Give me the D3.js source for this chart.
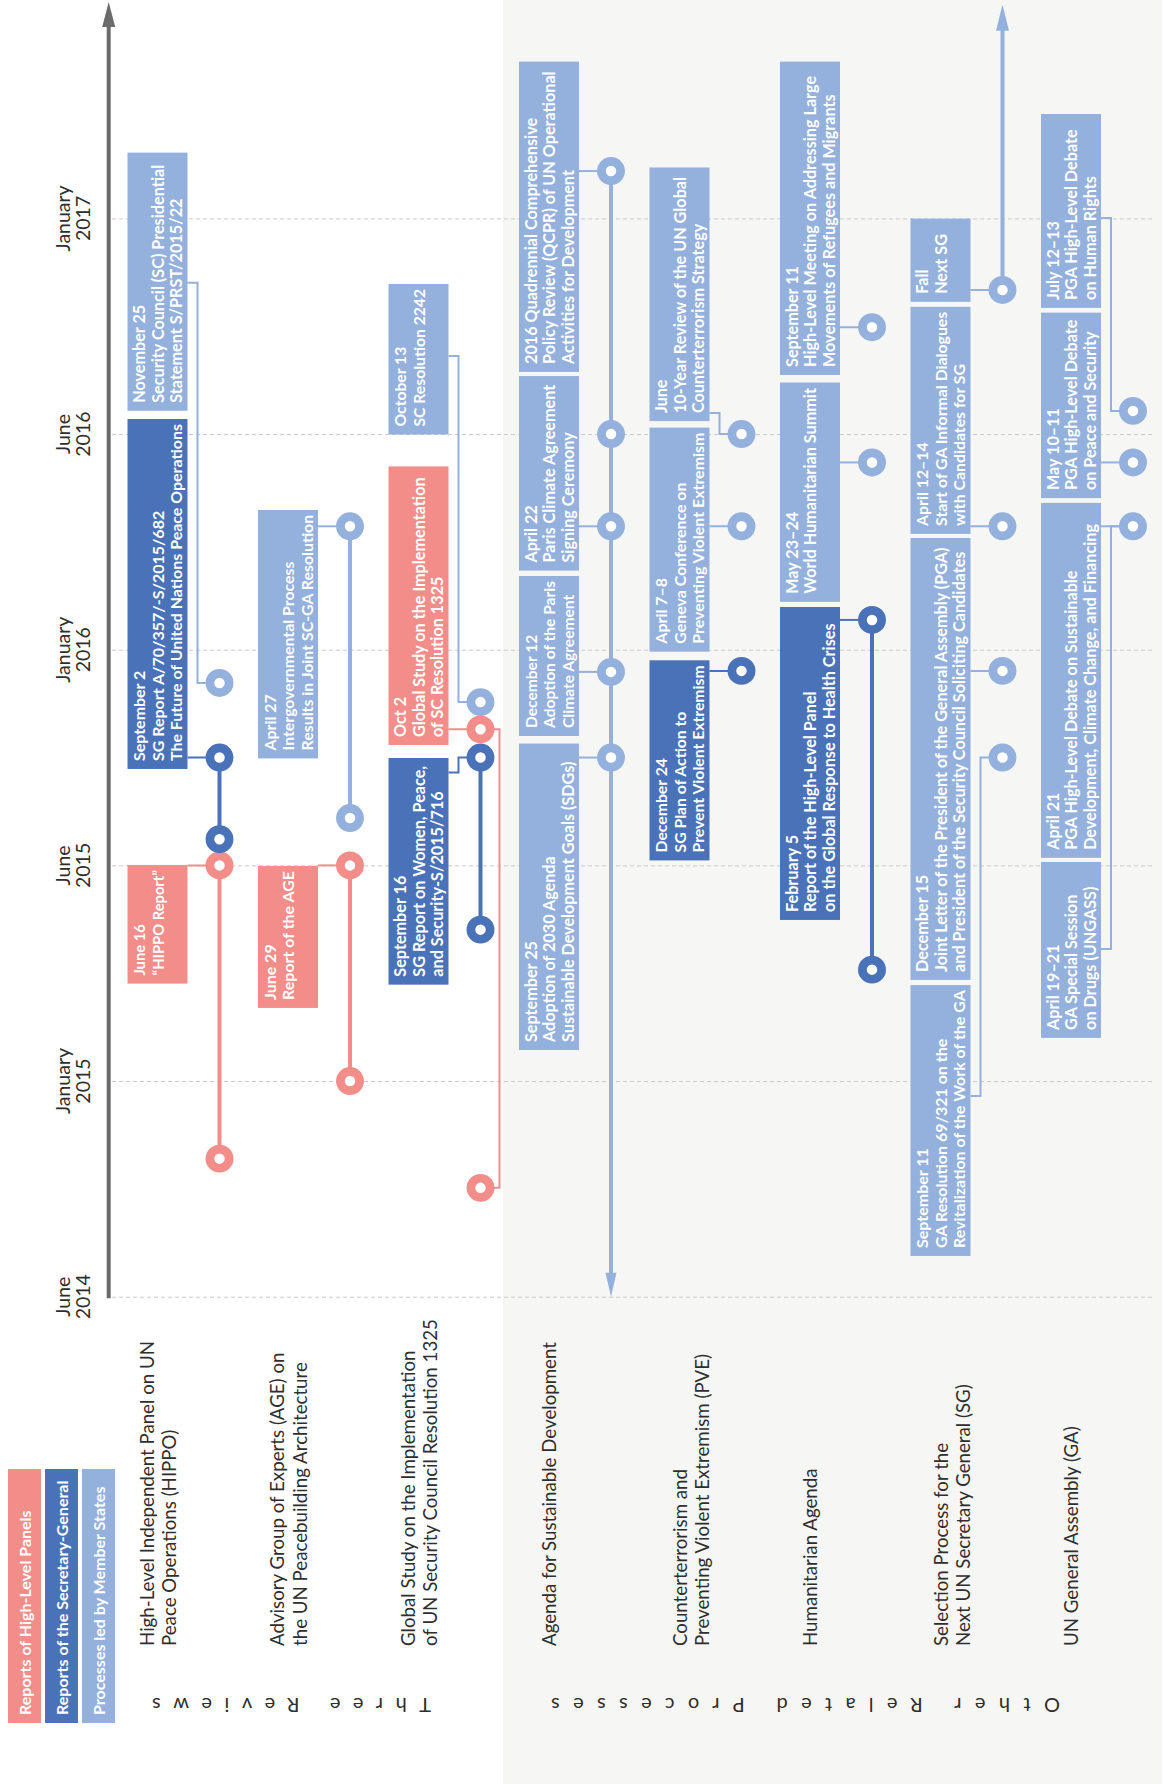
<!DOCTYPE html>
<html><head><meta charset="utf-8">
<script src="https://cdn.jsdelivr.net/npm/d3@7"></script>
<style>
html,body{margin:0;padding:0;background:#fff;}
svg{display:block;}
text{font-family:Lato,"Open Sans",sans-serif;}
</style></head><body>
<svg id="chart" width="1167" height="1784"></svg>
<script>
// ---------------- DATA ----------------
const tickDates  = ["2014-06-01","2015-01-01","2015-06-01","2016-01-01","2016-06-01","2017-01-01"];
const tickMonths = ["June","January","June","January","June","January"];
const tickYears  = ["2014","2015","2015","2016","2016","2017"];

const rowLabels = [
  ["High-Level Independent Panel on UN","Peace Operations (HIPPO)"],
  ["Advisory Group of Experts (AGE) on","the UN Peacebuilding Architecture"],
  ["Global Study on the Implementation","of UN Security Council Resolution 1325"],
  ["Agenda for Sustainable Development"],
  ["Counterterrorism and","Preventing Violent Extremism (PVE)"],
  ["Humanitarian Agenda"],
  ["Selection Process for the","Next UN Secretary General (SG)"],
  ["UN General Assembly (GA)"]
];
const rowGroups   = [0,0,0,1,1,1,1,1];
const groupLabels = ["Three Reviews","Other Related Processes"];

const categories   = ["panel","sg","member"];
const legendLabels = ["Reports of High-Level Panels","Reports of the Secretary-General","Processes led by Member States"];

// timeline points (circles)
const points = [
  {row:0,type:"panel",date:"2014-10-16"},{row:0,type:"panel",date:"2015-06-01"},
  {row:0,type:"sg",date:"2015-06-27"},{row:0,type:"sg",date:"2015-09-16"},
  {row:0,type:"member",date:"2015-11-29"},
  {row:1,type:"panel",date:"2015-01-01"},{row:1,type:"panel",date:"2015-06-01"},
  {row:1,type:"member",date:"2015-07-18"},{row:1,type:"member",date:"2016-03-28"},
  {row:2,type:"panel",date:"2014-09-17"},{row:2,type:"panel",date:"2015-10-14"},
  {row:2,type:"sg",date:"2015-04-17"},{row:2,type:"sg",date:"2015-09-16"},
  {row:2,type:"member",date:"2015-11-10"},
  {row:3,type:"member",date:"2015-09-16"},{row:3,type:"member",date:"2015-12-10"},
  {row:3,type:"member",date:"2016-03-28"},{row:3,type:"member",date:"2016-06-01"},
  {row:3,type:"member",date:"2017-02-17"},
  {row:4,type:"sg",date:"2015-12-11"},{row:4,type:"member",date:"2016-03-28"},
  {row:4,type:"member",date:"2016-06-01"},
  {row:5,type:"sg",date:"2015-03-20"},{row:5,type:"sg",date:"2016-01-22"},
  {row:5,type:"member",date:"2016-05-12"},{row:5,type:"member",date:"2016-09-15"},
  {row:6,type:"member",date:"2015-09-16"},{row:6,type:"member",date:"2015-12-11"},
  {row:6,type:"member",date:"2016-03-28"},{row:6,type:"member",date:"2016-10-22"},
  {row:7,type:"member",date:"2016-03-28"},{row:7,type:"member",date:"2016-05-12"},
  {row:7,type:"member",date:"2016-06-24"}
];

// process spans (lines joining points)
const spans = [
  {row:0,type:"panel",from:"2014-10-16",to:"2015-06-01"},
  {row:0,type:"sg",from:"2015-06-27",to:"2015-09-16"},
  {row:1,type:"panel",from:"2015-01-01",to:"2015-06-01"},
  {row:1,type:"member",from:"2015-07-18",to:"2016-03-28"},
  {row:2,type:"panel",from:"2014-09-17",to:"2015-10-14",bracket:true},
  {row:2,type:"sg",from:"2015-04-17",to:"2015-09-16"},
  {row:3,type:"member",from:"2014-06-01",to:"2017-02-17",arrow:"from"},
  {row:5,type:"sg",from:"2015-03-20",to:"2016-01-22"},
  {row:6,type:"member",from:"2016-10-22",to:"2017-08-01",arrow:"to"}
];

// annotation boxes
const notes = [
  {row:0,type:"panel",date:"2015-06-01",text:["June 16","\u201CHIPPO Report\u201D"]},
  {row:0,type:"sg",date:"2015-09-16",text:["September 2","SG Report A/70/357/-S/2015/682","The Future of United Nations Peace Operations"]},
  {row:0,type:"member",date:"2015-11-29",text:["November 25","Security Council (SC) Presidential","Statement S/PRST/2015/22"]},
  {row:1,type:"panel",date:"2015-06-01",text:["June 29","Report of the AGE"]},
  {row:1,type:"member",date:"2016-03-28",text:["April 27","Intergovernmental Process","Results in Joint SC-GA Resolution"]},
  {row:2,type:"panel",date:"2015-10-14",text:["Oct 2","Global Study on the Implementation","of SC Resolution 1325"]},
  {row:2,type:"sg",date:"2015-09-16",text:["September 16","SG Report on Women, Peace,","and Security-S/2015/716"]},
  {row:2,type:"member",date:"2015-11-10",text:["October 13","SC Resolution 2242"]},
  {row:3,type:"member",date:"2015-09-16",text:["September 25","Adoption of 2030 Agenda","Sustainable Development Goals (SDGs)"]},
  {row:3,type:"member",date:"2015-12-10",text:["December 12","Adoption of the Paris","Climate Agreement"]},
  {row:3,type:"member",date:"2016-03-28",text:["April 22","Paris Climate Agreement","Signing Ceremony"]},
  {row:3,type:"member",date:"2017-02-17",text:["2016 Quadrennial Comprehensive","Policy Review (QCPR) of UN Operational","Activities for Development"]},
  {row:4,type:"sg",date:"2015-12-11",text:["December 24","SG Plan of Action to","Prevent Violent Extremism"]},
  {row:4,type:"member",date:"2016-03-28",text:["April 7\u20138","Geneva Conference on","Preventing Violent Extremism"]},
  {row:4,type:"member",date:"2016-06-01",text:["June","10-Year Review of the UN Global","Counterterrorism Strategy"]},
  {row:5,type:"sg",date:"2016-01-22",text:["February 5","Report of the High-Level Panel","on the Global Response to Health Crises"]},
  {row:5,type:"member",date:"2016-05-12",text:["May 23\u201324","World Humanitarian Summit"]},
  {row:5,type:"member",date:"2016-09-15",text:["September 11","High-Level Meeting on Addressing Large","Movements of Refugees and Migrants"]},
  {row:6,type:"member",date:"2015-09-16",text:["September 11","GA Resolution 69/321 on the","Revitalization of the Work of the GA"]},
  {row:6,type:"member",date:"2015-12-11",text:["December 15","Joint Letter of the President of the General  Assembly (PGA)","and President of the Security Council Soliciting Candidates"]},
  {row:6,type:"member",date:"2016-03-28",text:["April 12\u201314","Start of GA Informal Dialogues","with Candidates for SG"]},
  {row:6,type:"member",date:"2016-10-22",text:["Fall","Next SG"]},
  {row:7,type:"member",date:"2016-03-28",text:["April 19\u201321","GA Special Session","on Drugs (UNGASS)"]},
  {row:7,type:"member",date:"2016-03-28",text:["April 21","PGA High-Level Debate on Sustainable","Development, Climate Change, and Financing"]},
  {row:7,type:"member",date:"2016-05-12",text:["May 10\u201311","PGA High-Level Debate","on Peace and Security"]},
  {row:7,type:"member",date:"2016-06-24",text:["July 12\u201313","PGA High-Level Debate","on Human Rights"]}
];

// ---------------- LAYOUT (box extents in tick-step units along the time axis) ----------------
const noteLayout = [
  [1.452,2.002,null],[2.447,4.070,null],[4.108,5.305,4.702],
  [1.339,1.997,null],[2.496,3.648,null],
  [2.558,3.850,null],[1.447,2.498,2.431],[3.998,4.696,4.362],
  [1.144,2.565,null],[2.600,3.342,null],[3.367,4.269,null],[4.288,5.727,null],
  [2.023,2.951,null],[2.991,4.030,null],[4.060,5.236,4.098],
  [1.747,3.198,null],[3.222,4.239,null],[4.274,5.727,null],
  [0.189,1.445,0.931],[1.469,3.518,null],[3.537,4.590,null],[4.613,4.999,null],
  [1.200,2.016,1.612],[2.035,3.681,null],[3.703,4.563,null],[4.585,5.484,5.002]
];

const W = 1167, H = 1784;
const colors = {panel:"#f28d89", sg:"#4a72b8", member:"#94b0dc"};
const textDark = "#2e2e2e";

const svg = d3.select("#chart");
const parse = d3.utcParse("%Y-%m-%d");
const tickPos = d3.scaleLinear().domain([0, tickDates.length - 1]).range([1296.7, 218.4]);
const y = d3.scaleUtc().domain(tickDates.map(parse)).range(tickDates.map((d,i) => tickPos(i)));
const x = d3.scalePoint().domain(d3.range(rowLabels.length)).range([219.5, 1133]);

// backgrounds
svg.append("rect").attr("width", W).attr("height", H).attr("fill", "#fff");
svg.append("rect").attr("x", 503).attr("y", 0).attr("width", 659).attr("height", H).attr("fill", "#f6f6f4");

// gridlines via axis
const grid = svg.append("g").attr("transform", "translate(112,0)")
  .call(d3.axisRight(y).tickValues(tickDates.map(parse)).tickSize(1043).tickFormat(""));
grid.select(".domain").remove();
grid.selectAll(".tick line").attr("stroke", "#c9c9c9").attr("stroke-width", 1).attr("stroke-dasharray", "4 3");

// tick labels
tickDates.forEach((d, i) => {
  const yy = y(parse(d));
  svg.append("text").attr("transform", `translate(70,${yy}) rotate(-90)`)
    .attr("text-anchor", "middle").attr("font-size", 19.5).attr("fill", textDark).text(tickMonths[i]);
  svg.append("text").attr("transform", `translate(90,${yy}) rotate(-90)`)
    .attr("text-anchor", "middle").attr("font-size", 19.5).attr("fill", textDark).text(tickYears[i]);
});

// main axis with arrow
const axisX = 108.7;
svg.append("line").attr("x1", axisX).attr("x2", axisX).attr("y1", tickPos(0) + 1.5).attr("y2", 24)
  .attr("stroke", "#6b6b6b").attr("stroke-width", 4);
svg.append("path").attr("d", `M${axisX},2 L${axisX - 6.5},27 L${axisX + 6.5},27 Z`).attr("fill", "#6b6b6b");

// spans
const spanG = svg.append("g");
spans.forEach(s => {
  const cx = x(s.row), y1 = y(parse(s.from)), y2 = y(parse(s.to)), c = colors[s.type];
  if (s.bracket) {
    spanG.append("path").attr("d", `M${cx},${y2} H${cx + 19} V${y1} H${cx}`)
      .attr("fill", "none").attr("stroke", c).attr("stroke-width", 2);
    return;
  }
  let a = y1, b = y2;
  if (s.arrow === "from") {
    a = y1 - 22;
    spanG.append("path").attr("d", `M${cx},${y1} L${cx - 5.5},${y1 - 24} L${cx + 5.5},${y1 - 24} Z`).attr("fill", c);
  }
  if (s.arrow === "to") {
    b = y2 + 24;
    spanG.append("path").attr("d", `M${cx},${y2} L${cx - 6.5},${y2 + 26} L${cx + 6.5},${y2 + 26} Z`).attr("fill", c);
  }
  spanG.append("line").attr("x1", cx).attr("x2", cx).attr("y1", a).attr("y2", b)
    .attr("stroke", c).attr("stroke-width", 4);
});

// connectors + boxes
const boxG = svg.append("g");
notes.forEach((n, i) => {
  const [pb, pt, pa] = noteLayout[i];
  const cx = x(n.row), c = colors[n.type];
  const bx = cx - 92, bw = 60, bRight = bx + bw;
  const yb = tickPos(pb), yt = tickPos(pt), ev = y(parse(n.date));
  const d = (pa === null) ? `M${bRight},${ev} H${cx}` :
    `M${bRight},${tickPos(pa)} H${cx - 22} V${ev} H${cx}`;
  boxG.append("path").attr("d", d).attr("fill", "none").attr("stroke", c).attr("stroke-width", 2);
  boxG.append("rect").attr("x", bx).attr("y", yt).attr("width", bw).attr("height", yb - yt).attr("fill", c);
  const g = boxG.append("g").attr("transform", `translate(${bx},${yb}) rotate(-90)`);
  const fs = 16.2;
  const ts = n.text.map((t, k) => g.append("text").attr("x", 8).attr("y", 17.5 + 18.6 * k)
    .attr("font-size", fs).attr("font-weight", 700).attr("fill", "#fff").text(t));
  const maxL = d3.max(ts, t => t.node().getComputedTextLength());
  const avail = (yb - yt) - 13;
  if (maxL > avail) ts.forEach(t => t.attr("font-size", fs * avail / maxL));
});

// circles
svg.append("g").selectAll("circle").data(points).join("circle")
  .attr("cx", d => x(d.row)).attr("cy", d => y(parse(d.date))).attr("r", 9.6)
  .attr("fill", "#fff").attr("stroke", d => colors[d.type]).attr("stroke-width", 8.7);

// row labels
const labelOffsets = [[-66, -43.5], [-55, -32.5]];
rowLabels.forEach((lines, r) => {
  lines.forEach((t, k) => {
    svg.append("text").attr("transform", `translate(${x(r) + labelOffsets[rowGroups[r]][k]},1646) rotate(-90)`)
      .attr("font-size", 18.7).attr("fill", textDark).text(t);
  });
});

// group labels (upside-down, spaced)
const groupRight = [431, 1060], groupWidth = [279, 509];
groupLabels.forEach((t, i) => {
  svg.append("text").attr("transform", `translate(${groupRight[i]},1698) rotate(180)`)
    .attr("font-size", 20).attr("fill", textDark)
    .attr("textLength", groupWidth[i]).attr("lengthAdjust", "spacing").text(t);
});

// legend
categories.forEach((c, i) => {
  const lx = 8 + i * 37;
  svg.append("rect").attr("x", lx).attr("y", 1469).attr("width", 33).attr("height", 254).attr("fill", colors[c]);
  svg.append("text").attr("transform", `translate(${lx + 22.5},1715) rotate(-90)`)
    .attr("font-size", 16).attr("font-weight", 700).attr("fill", "#fff").text(legendLabels[i]);
});
</script>
</body></html>
